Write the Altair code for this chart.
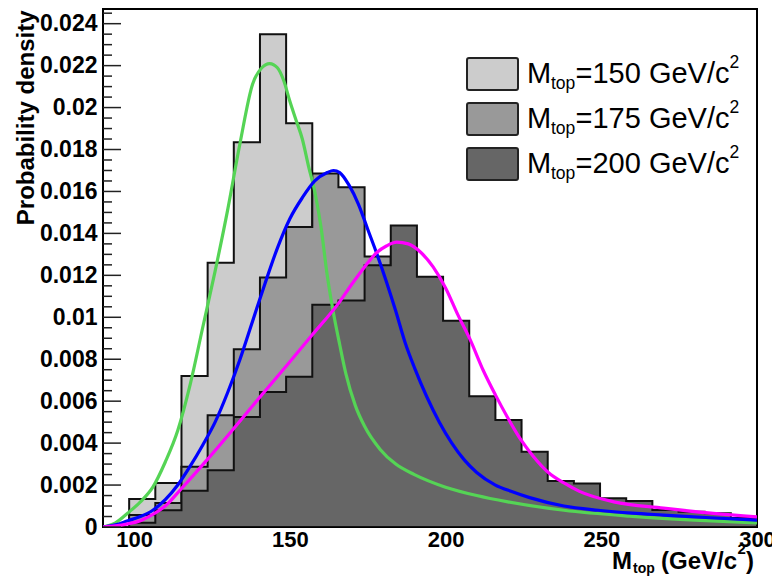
import altair as alt
import pandas as pd
import numpy as np

FONT = "Liberation Sans"

# ---------------- data ----------------
X_MIN, X_MAX = 90, 300
Y_MAX = 0.0247
N_BINS = 25

# histogram bin contents (probability density), 25 bins from 90 to 300
h150 = [0.0, 0.00133, 0.0021, 0.0072, 0.0126, 0.01835, 0.0235, 0.01925, 0.0125,
        0.0085, 0.0055, 0.0040, 0.0030, 0.0022, 0.0018, 0.0014, 0.0011, 0.0009,
        0.0008, 0.0006, 0.0005, 0.0004, 0.0004, 0.0003, 0.0003]
h175 = [0.0, 0.00057, 0.00114, 0.00287, 0.00533, 0.00848, 0.0119, 0.0143, 0.01686,
        0.0162, 0.0129, 0.0105, 0.0075, 0.0050, 0.0035, 0.0027, 0.0020, 0.0015,
        0.0012, 0.0010, 0.0008, 0.0006, 0.0005, 0.0004, 0.0003]
h200 = [0.0, 0.0002, 0.0008, 0.00173, 0.00271, 0.00525, 0.00644, 0.00716, 0.0106,
        0.0108, 0.01248, 0.01438, 0.01193, 0.00983, 0.00624, 0.0051, 0.00359, 0.00219,
        0.00208, 0.00137, 0.00124, 0.00081, 0.00073, 0.00065, 0.00043]

# fitted curves
g_x = [90, 94, 98, 102, 106, 110, 114, 118, 122, 126, 130, 134, 138, 141, 143.5, 146,
       148, 150, 152, 154, 156, 158, 160, 162, 164, 166, 168, 171, 174, 179, 184, 190,
       200, 210, 220, 238, 259, 280, 300]
g_y = [0.0, 0.0002, 0.00067, 0.0012, 0.0019, 0.0031, 0.0046, 0.0068, 0.0095, 0.0122,
       0.0151, 0.0183, 0.0211, 0.0219, 0.0221, 0.0219, 0.0213, 0.0203, 0.0194, 0.0185,
       0.0172, 0.0160, 0.0143, 0.0120, 0.0102, 0.0087, 0.0073, 0.0058, 0.0048, 0.0037,
       0.0030, 0.0025, 0.0019, 0.0015, 0.0012, 0.0008, 0.00052, 0.00033, 0.0002]

b_x = [90, 94, 98, 102, 106, 110, 114, 118, 122, 126, 130, 134, 138, 142, 146, 150,
       154, 158, 162, 164, 166, 169, 172, 175, 178, 181, 184, 187, 190, 194, 198, 202,
       206, 210, 216, 221, 227, 238, 249, 260, 270, 285, 300]
b_y = [0.0, 0.0001, 0.0003, 0.0005, 0.0008, 0.0013, 0.0020, 0.0029, 0.0039, 0.0050,
       0.0064, 0.0080, 0.0098, 0.0116, 0.0133, 0.0147, 0.0157, 0.0165, 0.0169, 0.0170,
       0.0169, 0.0163, 0.0154, 0.0142, 0.0130, 0.0117, 0.0103, 0.0088, 0.0076, 0.0062,
       0.0050, 0.0040, 0.0032, 0.0026, 0.0020, 0.0017, 0.0014, 0.0010, 0.0008, 0.00066,
       0.00057, 0.00044, 0.00033]

m_x = [90, 94, 98, 102, 106, 110, 115, 123.4, 132, 140.4, 149, 157.4, 165.8, 170,
       174, 178, 181, 184.3, 188, 192, 196, 200, 204, 208, 212, 216, 220, 224, 228,
       233, 238, 243, 254, 270, 286, 300]
m_y = [0.0, 0.00005, 0.00015, 0.0003, 0.0006, 0.0010, 0.0018, 0.0032, 0.0047, 0.0062,
       0.0077, 0.0092, 0.0107, 0.0116, 0.0124, 0.0131, 0.0134, 0.01358, 0.0135, 0.0131,
       0.0124, 0.0114, 0.0101, 0.0089, 0.0075, 0.0063, 0.0052, 0.0042, 0.0034, 0.0026,
       0.0021, 0.0017, 0.0012, 0.0009, 0.00065, 0.00048]

x_tick_labels = [100, 150, 200, 250, 300]
y_tick_labels = [0, 0.002, 0.004, 0.006, 0.008, 0.01, 0.012, 0.014, 0.016, 0.018,
                 0.02, 0.022, 0.024]
legend_masses = ["150", "175", "200"]

# ---------------- styles ----------------
FILLS = ["#cccccc", "#999999", "#666666"]
CURVE_COLORS = ["#55d455", "#0000ff", "#ff00ff"]

edges = np.linspace(X_MIN, X_MAX, N_BINS + 1)

xs = alt.Scale(domain=[X_MIN, X_MAX], nice=False, zero=False)
ys = alt.Scale(domain=[0, Y_MAX], nice=False, zero=True)

x_axis = alt.Axis(values=x_tick_labels, title=None, ticks=False, domain=False,
                  grid=False, labelFont=FONT, labelFontSize=22, labelFontWeight="bold",
                  labelColor="#000", labelPadding=2, labelFlush=False,
                  labelOverlap=False, labelBound=False)
y_axis = alt.Axis(values=y_tick_labels, format=".3~f", title="Probability density",
                  titleFont=FONT, titleFontSize=24, titleFontWeight="bold",
                  titleColor="#000", titleAngle=270, titleAlign="right",
                  titleBaseline="alphabetic", titleX=-70, titleY=1,
                  ticks=False, domain=False, grid=False, labelFont=FONT,
                  labelFontSize=23, labelFontWeight="bold", labelColor="#000",
                  labelPadding=6, labelOverlap=False, labelFlush=False,
                  labelBound=False)


def X(field="x"):
    return alt.X(f"{field}:Q", scale=xs, axis=x_axis)


def Y(field="y"):
    return alt.Y(f"{field}:Q", scale=ys, axis=y_axis)


layers = []

# histograms
for vals, fill in zip([h150, h175, h200], FILLS):
    df = pd.DataFrame({"x": edges, "y": list(vals) + [vals[-1]]})
    layers.append(
        alt.Chart(df).mark_area(interpolate="step-after", fill=fill, stroke="#111",
                                strokeWidth=2, clip=True)
        .encode(x=X(), y=Y())
    )

# curves
for cx, cy, col in zip([g_x, b_x, m_x], [g_y, b_y, m_y], CURVE_COLORS):
    df = pd.DataFrame({"x": cx, "y": cy})
    layers.append(
        alt.Chart(df).mark_line(interpolate="monotone", color=col, strokeWidth=3.2,
                                clip=True)
        .encode(x=X(), y=Y())
    )

# y ticks (inside the frame, ROOT style)
all_ticks = np.round(np.arange(0, Y_MAX, 0.0005), 5)
is_major = [abs(t / 0.002 - round(t / 0.002)) < 1e-6 for t in all_ticks]
major = pd.DataFrame({"y": [t for t, m in zip(all_ticks, is_major) if m]})
minor = pd.DataFrame({"y": [t for t, m in zip(all_ticks, is_major) if not m]})
layers.append(alt.Chart(major).mark_rule(color="#222", strokeWidth=1.5)
              .encode(y=Y(), x=alt.value(0), x2=alt.value(18)))
layers.append(alt.Chart(minor).mark_rule(color="#222", strokeWidth=1.5)
              .encode(y=Y(), x=alt.value(0), x2=alt.value(9)))


def txt(s, x, y, size, weight="normal", align="left"):
    return (alt.Chart(pd.DataFrame({"t": [s]}))
            .mark_text(font=FONT, fontSize=size, fontWeight=weight, align=align,
                       baseline="alphabetic", color="#000")
            .encode(text="t:N", x=alt.value(x), y=alt.value(y)))


# legend
for i, (mass, fill) in enumerate(zip(legend_masses, FILLS)):
    dy = 45 * i
    layers.append(
        alt.Chart(pd.DataFrame({"a": [0]}))
        .mark_rect(fill=fill, stroke="#222", strokeWidth=2, cornerRadius=2)
        .encode(x=alt.value(364), x2=alt.value(415), y=alt.value(49 + dy),
                y2=alt.value(81 + dy))
    )
    layers.append(txt("M", 424, 74 + dy, 29))
    layers.append(txt("top", 448, 80 + dy, 17.5))
    layers.append(txt(f"={mass} GeV/c", 472.5, 74 + dy, 29))
    layers.append(txt("2", 626.5, 59 + dy, 17.5))

# x axis title: M_top (GeV/c^2)
layers.append(txt("M", 509, 560, 24, "bold"))
layers.append(txt("top", 530, 564, 14, "bold"))
layers.append(txt("(GeV/c", 558, 560, 24, "bold"))
layers.append(txt("2", 634.5, 545, 15, "bold"))
layers.append(txt(")", 643, 560, 24, "bold"))

chart = (
    alt.layer(*layers)
    .properties(width=654, height=518,
                autosize=alt.AutoSizeParams(type="none"),
                padding={"left": 95, "top": 1, "right": 15, "bottom": 49},
                background="white")
    .configure_view(stroke="#000", strokeWidth=2)
)

chart.save("out.html", embed_options={"renderer": "svg", "actions": False})
